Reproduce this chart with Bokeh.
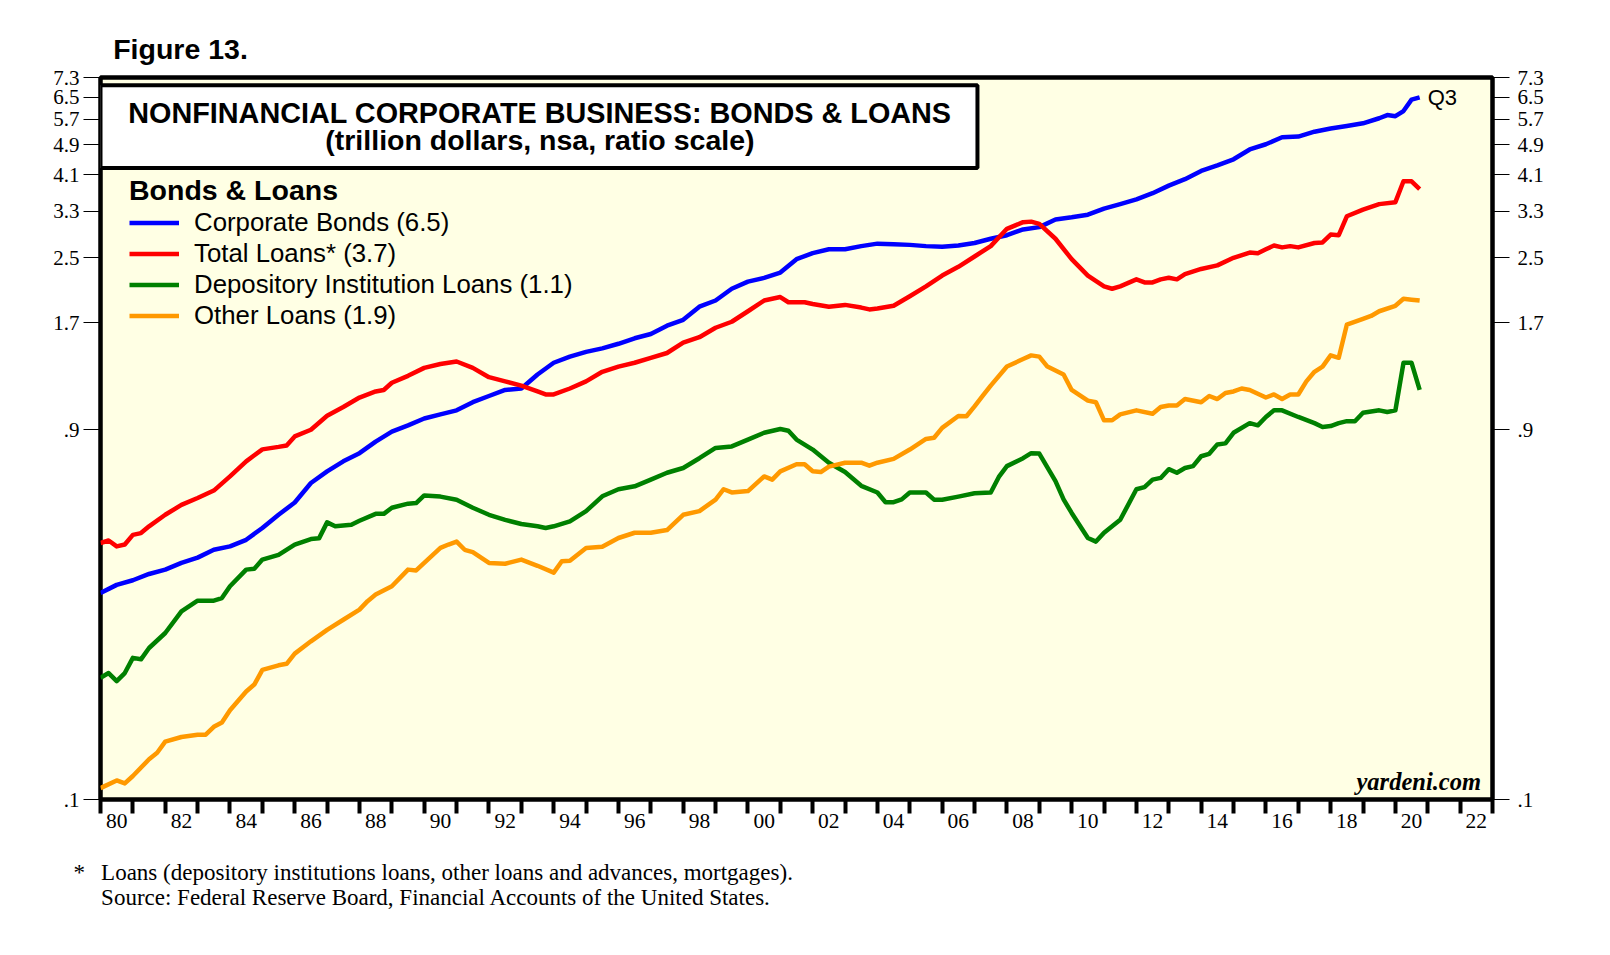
from bokeh.plotting import figure
from bokeh.models import (FixedTicker, LogAxis, Label, BoxAnnotation, Legend, LegendItem, Title)
from bokeh.embed import file_html
from bokeh.resources import INLINE

# ---------------- data (trillion dollars, quarterly dates as decimal years) ----------------
bonds_t = [1980.0, 1980.5, 1981.0, 1981.5, 1982.0, 1982.5, 1983.0, 1983.5, 1984.0, 1984.5,
           1985.0, 1985.5, 1986.0, 1986.5, 1987.0, 1987.5, 1988.0, 1988.5, 1989.0, 1989.5,
           1990.0, 1990.5, 1991.0, 1991.5, 1992.0, 1992.5, 1993.0, 1993.5, 1994.0, 1994.5,
           1995.0, 1995.5, 1996.0, 1996.5, 1997.0, 1997.5, 1998.0, 1998.5, 1999.0, 1999.5,
           2000.0, 2000.5, 2001.0, 2001.5, 2002.0, 2002.5, 2003.0, 2003.5, 2004.0, 2004.5,
           2005.0, 2005.5, 2006.0, 2006.5, 2007.0, 2007.5, 2008.0, 2008.5, 2009.0, 2009.5,
           2010.0, 2010.5, 2011.0, 2011.5, 2012.0, 2012.5, 2013.0, 2013.5, 2014.0, 2014.5,
           2015.0, 2015.5, 2016.0, 2016.5, 2017.0, 2017.5, 2018.0, 2018.5, 2019.0, 2019.5,
           2019.75, 2020.0, 2020.25, 2020.5, 2020.75]
bonds = [0.341, 0.358, 0.368, 0.382, 0.392, 0.408, 0.421, 0.441, 0.450, 0.468,
         0.502, 0.543, 0.584, 0.656, 0.703, 0.746, 0.783, 0.839, 0.890, 0.924,
         0.962, 0.986, 1.01, 1.06, 1.10, 1.14, 1.15, 1.25, 1.34, 1.39,
         1.43, 1.46, 1.50, 1.55, 1.59, 1.67, 1.73, 1.87, 1.94, 2.08,
         2.17, 2.22, 2.29, 2.48, 2.57, 2.63, 2.63, 2.68, 2.72, 2.71,
         2.70, 2.68, 2.67, 2.69, 2.73, 2.80, 2.86, 2.96, 3.00, 3.14,
         3.18, 3.23, 3.35, 3.44, 3.54, 3.67, 3.84, 3.99, 4.19, 4.33,
         4.49, 4.76, 4.91, 5.12, 5.14, 5.29, 5.39, 5.47, 5.56, 5.73,
         5.84, 5.80, 5.98, 6.40, 6.49]

loans_t = [1980.0, 1980.25, 1980.5, 1980.75, 1981.0, 1981.25, 1981.5, 1982.0, 1982.5, 1983.0,
           1983.5, 1984.0, 1984.5, 1985.0, 1985.5, 1985.75, 1986.0, 1986.5, 1987.0, 1987.5,
           1988.0, 1988.5, 1988.75, 1989.0, 1989.5, 1990.0, 1990.5, 1991.0, 1991.5, 1992.0,
           1992.5, 1993.0, 1993.5, 1993.75, 1994.0, 1994.5, 1995.0, 1995.5, 1996.0, 1996.5,
           1997.0, 1997.5, 1998.0, 1998.5, 1999.0, 1999.5, 2000.0, 2000.5, 2001.0, 2001.25,
           2001.75, 2002.0, 2002.5, 2003.0, 2003.5, 2003.75, 2004.0, 2004.5, 2005.0, 2005.5,
           2006.0, 2006.5, 2007.0, 2007.5, 2008.0, 2008.5, 2008.75, 2009.0, 2009.5, 2010.0,
           2010.5, 2011.0, 2011.25, 2011.5, 2012.0, 2012.25, 2012.5, 2012.75, 2013.0, 2013.25,
           2013.5, 2014.0, 2014.5, 2015.0, 2015.5, 2015.75, 2016.0, 2016.25, 2016.5, 2016.75,
           2017.0, 2017.5, 2017.75, 2018.0, 2018.25, 2018.5, 2019.0, 2019.5, 2020.0, 2020.25,
           2020.5, 2020.75]
total_loans = [0.459, 0.466, 0.450, 0.455, 0.482, 0.487, 0.507, 0.543, 0.576, 0.600,
               0.627, 0.682, 0.746, 0.801, 0.813, 0.820, 0.865, 0.900, 0.978, 1.03,
               1.09, 1.13, 1.14, 1.19, 1.24, 1.30, 1.33, 1.35, 1.30, 1.23,
               1.20, 1.17, 1.13, 1.11, 1.11, 1.15, 1.20, 1.27, 1.31, 1.34,
               1.38, 1.42, 1.51, 1.56, 1.65, 1.71, 1.82, 1.94, 1.98, 1.92,
               1.92, 1.90, 1.87, 1.89, 1.86, 1.84, 1.85, 1.88, 1.99, 2.11,
               2.25, 2.37, 2.52, 2.68, 2.97, 3.09, 3.10, 3.06, 2.80, 2.48,
               2.25, 2.11, 2.08, 2.11, 2.20, 2.16, 2.16, 2.20, 2.22, 2.20,
               2.27, 2.34, 2.39, 2.50, 2.58, 2.57, 2.63, 2.69, 2.66, 2.68,
               2.66, 2.73, 2.74, 2.87, 2.86, 3.20, 3.33, 3.44, 3.48, 3.94,
               3.94, 3.76]

dep_t = [1980.0, 1980.25, 1980.5, 1980.75, 1981.0, 1981.25, 1981.5, 1982.0, 1982.5, 1983.0,
         1983.5, 1983.75, 1984.0, 1984.5, 1984.75, 1985.0, 1985.5, 1986.0, 1986.5, 1986.75,
         1987.0, 1987.25, 1987.75, 1988.0, 1988.5, 1988.75, 1989.0, 1989.5, 1989.75, 1990.0,
         1990.5, 1991.0, 1991.5, 1992.0, 1992.5, 1993.0, 1993.5, 1993.75, 1994.0, 1994.5,
         1995.0, 1995.5, 1996.0, 1996.5, 1997.0, 1997.5, 1998.0, 1998.5, 1999.0, 1999.5,
         2000.0, 2000.5, 2001.0, 2001.25, 2001.5, 2002.0, 2002.5, 2003.0, 2003.5, 2004.0,
         2004.25, 2004.5, 2004.75, 2005.0, 2005.5, 2005.75, 2006.0, 2006.5, 2007.0, 2007.5,
         2007.75, 2008.0, 2008.5, 2008.75, 2009.0, 2009.5, 2009.75, 2010.0, 2010.5, 2010.75,
         2011.0, 2011.5, 2012.0, 2012.25, 2012.5, 2012.75, 2013.0, 2013.25, 2013.5, 2013.75,
         2014.0, 2014.25, 2014.5, 2014.75, 2015.0, 2015.5, 2015.75, 2016.0, 2016.25, 2016.5,
         2017.0, 2017.5, 2017.75, 2018.0, 2018.25, 2018.5, 2018.75, 2019.0, 2019.5, 2019.75,
         2020.0, 2020.25, 2020.5, 2020.75]
depository_loans = [0.206, 0.212, 0.202, 0.212, 0.232, 0.230, 0.246, 0.269, 0.306, 0.326,
                    0.326, 0.331, 0.355, 0.392, 0.394, 0.416, 0.428, 0.455, 0.470, 0.472,
                    0.519, 0.507, 0.512, 0.524, 0.546, 0.546, 0.566, 0.580, 0.582, 0.609,
                    0.605, 0.594, 0.566, 0.543, 0.527, 0.514, 0.507, 0.502, 0.507, 0.522,
                    0.555, 0.606, 0.632, 0.643, 0.669, 0.697, 0.717, 0.760, 0.808, 0.815,
                    0.849, 0.884, 0.904, 0.895, 0.849, 0.800, 0.740, 0.700, 0.645, 0.620,
                    0.585, 0.585, 0.595, 0.620, 0.620, 0.594, 0.594, 0.605, 0.617, 0.620,
                    0.680, 0.725, 0.760, 0.783, 0.781, 0.663, 0.595, 0.549, 0.473, 0.463,
                    0.488, 0.527, 0.632, 0.640, 0.669, 0.676, 0.712, 0.697, 0.717, 0.725,
                    0.769, 0.780, 0.825, 0.830, 0.884, 0.936, 0.924, 0.971, 1.01, 1.01,
                    0.971, 0.936, 0.915, 0.920, 0.936, 0.947, 0.947, 0.996, 1.01, 1.00,
                    1.01, 1.34, 1.34, 1.14]

oth_t = [1980.0, 1980.5, 1980.75, 1981.0, 1981.5, 1981.75, 1982.0, 1982.5, 1983.0, 1983.25,
         1983.5, 1983.75, 1984.0, 1984.5, 1984.75, 1985.0, 1985.5, 1985.75, 1986.0, 1986.5,
         1987.0, 1987.5, 1988.0, 1988.25, 1988.5, 1989.0, 1989.5, 1989.75, 1990.0, 1990.5,
         1990.75, 1991.0, 1991.25, 1991.5, 1992.0, 1992.5, 1993.0, 1993.5, 1994.0, 1994.25,
         1994.5, 1995.0, 1995.5, 1996.0, 1996.5, 1997.0, 1997.5, 1998.0, 1998.5, 1999.0,
         1999.25, 1999.5, 2000.0, 2000.5, 2000.75, 2001.0, 2001.5, 2001.75, 2002.0, 2002.25,
         2002.5, 2003.0, 2003.5, 2003.75, 2004.0, 2004.5, 2005.0, 2005.5, 2005.75, 2006.0,
         2006.5, 2006.75, 2007.0, 2007.25, 2007.5, 2008.0, 2008.5, 2008.75, 2009.0, 2009.25,
         2009.5, 2009.75, 2010.0, 2010.5, 2010.75, 2011.0, 2011.25, 2011.5, 2012.0, 2012.5,
         2012.75, 2013.0, 2013.25, 2013.5, 2014.0, 2014.25, 2014.5, 2014.75, 2015.0, 2015.25,
         2015.5, 2016.0, 2016.25, 2016.5, 2016.75, 2017.0, 2017.25, 2017.5, 2017.75, 2018.0,
         2018.25, 2018.5, 2019.0, 2019.25, 2019.5, 2020.0, 2020.25, 2020.5, 2020.75]
other_loans = [0.107, 0.112, 0.110, 0.115, 0.127, 0.132, 0.141, 0.145, 0.147, 0.147,
               0.154, 0.158, 0.170, 0.190, 0.198, 0.216, 0.222, 0.224, 0.238, 0.256,
               0.274, 0.291, 0.309, 0.325, 0.338, 0.355, 0.392, 0.390, 0.408, 0.446,
               0.455, 0.463, 0.441, 0.435, 0.408, 0.406, 0.416, 0.401, 0.385, 0.412,
               0.413, 0.446, 0.449, 0.473, 0.488, 0.488, 0.496, 0.543, 0.555, 0.594,
               0.632, 0.620, 0.625, 0.682, 0.669, 0.703, 0.733, 0.733, 0.703, 0.700,
               0.723, 0.740, 0.740, 0.727, 0.740, 0.757, 0.800, 0.852, 0.858, 0.910,
               0.977, 0.975, 1.034, 1.10, 1.17, 1.31, 1.37, 1.40, 1.39, 1.31,
               1.28, 1.25, 1.14, 1.07, 1.06, 0.952, 0.952, 0.986, 1.01, 0.99,
               1.03, 1.04, 1.04, 1.08, 1.06, 1.10, 1.08, 1.12, 1.13, 1.15,
               1.14, 1.09, 1.11, 1.08, 1.11, 1.11, 1.20, 1.27, 1.31, 1.40,
               1.38, 1.68, 1.74, 1.77, 1.82, 1.88, 1.96, 1.95, 1.94]

series_names = ["Corporate Bonds (6.5)", "Total Loans* (3.7)",
                "Depository Institution Loans (1.1)", "Other Loans (1.9)"]
series_colors = ["#0000FF", "#FF0000", "#008000", "#FF9900"]

year_ticks = list(range(1980, 2024))
label_years = [1980.5, 1982.5, 1984.5, 1986.5, 1988.5, 1990.5, 1992.5, 1994.5, 1996.5, 1998.5,
               2000.5, 2002.5, 2004.5, 2006.5, 2008.5, 2010.5, 2012.5, 2014.5, 2016.5, 2018.5,
               2020.5, 2022.5]
x_labels = ["80", "82", "84", "86", "88", "90", "92", "94", "96", "98", "00", "02", "04",
            "06", "08", "10", "12", "14", "16", "18", "20", "22"]
y_ticks = [0.1, 0.9, 1.7, 2.5, 3.3, 4.1, 4.9, 5.7, 6.5, 7.3]
y_labels = [".1", ".9", "1.7", "2.5", "3.3", "4.1", "4.9", "5.7", "6.5", "7.3"]

footnote = ("*\u2002\u2009Loans (depository institutions loans, other loans and advances, mortgages).\n"
            "\u2002\u2002\u2009Source: Federal Reserve Board, Financial Accounts of the United States.")

SANS = "Liberation Sans"
SERIF = "Liberation Serif"

p = figure(width=1594, height=939, x_range=(1980, 2023), y_range=(0.1, 7.3),
           y_axis_type="log", output_backend="svg", toolbar_location=None,
           min_border_left=100, min_border_right=102, min_border_top=77, min_border_bottom=140)
p.background_fill_color = "#FFFFE4"
p.border_fill_color = "white"
p.outline_line_color = "black"
p.outline_line_width = 4.5
p.grid.visible = False

# x axis: thick year ticks, labels at mid-year of even years
xax = p.xaxis[0]
xax.ticker = FixedTicker(ticks=label_years, minor_ticks=year_ticks)
xax.major_label_overrides = dict(zip(label_years, x_labels))
xax.axis_line_color = None
xax.major_tick_line_color = None
xax.major_tick_out = 0
xax.major_tick_in = 0
xax.minor_tick_line_color = "black"
xax.minor_tick_line_width = 4
xax.minor_tick_out = 14
xax.minor_tick_in = 0
xax.major_label_standoff = 0
xax.major_label_text_font = SERIF
xax.major_label_text_font_size = "21.5px"
xax.major_label_text_color = "black"

def style_y(ax, standoff):
    ax.ticker = FixedTicker(ticks=y_ticks)
    ax.major_label_overrides = dict(zip(y_ticks, y_labels))
    ax.axis_line_color = None
    ax.major_tick_line_color = "black"
    ax.major_tick_line_width = 1
    ax.major_tick_out = 17
    ax.major_tick_in = 0
    ax.minor_tick_line_color = None
    ax.major_label_standoff = standoff
    ax.major_label_text_font = SERIF
    ax.major_label_text_font_size = "21px"
    ax.major_label_text_color = "black"

style_y(p.yaxis[0], 4)
rax = LogAxis()
style_y(rax, 8)
p.add_layout(rax, "right")

# title box
p.add_layout(BoxAnnotation(left=1980, right=2007.09, top=6.97, bottom=4.262,
                           fill_color="white", fill_alpha=1.0,
                           line_color="black", line_alpha=1.0, line_width=4))

# series
renderers = []
for t, v, c in [(bonds_t, bonds, series_colors[0]), (loans_t, total_loans, series_colors[1]),
                (dep_t, depository_loans, series_colors[2]), (oth_t, other_loans, series_colors[3])]:
    r = p.line(t, v, line_color=c, line_width=4.5, line_join="round")
    renderers.append(r)

legend = Legend(items=[LegendItem(label=n, renderers=[r]) for n, r in zip(series_names, renderers)],
                location=(29, 468), title="Bonds & Loans",
                title_text_font=SANS, title_text_font_size="28.5px", title_text_font_style="bold",
                title_text_color="black", title_standoff=0,
                label_text_font=SANS, label_text_font_size="25.8px", label_text_color="black",
                glyph_width=50, glyph_height=31, label_height=31, label_standoff=15,
                spacing=0, padding=0, margin=0,
                border_line_color=None, background_fill_alpha=0)
p.add_layout(legend, "center")

def lab(x, y, text, font=SANS, size="27px", style="normal", align="left"):
    p.add_layout(Label(x=x, y=y, x_units="screen", y_units="screen", text=text,
                       text_font=font, text_font_size=size, text_font_style=style,
                       text_align=align, text_baseline="alphabetic", text_color="black"))

lab(439.4, 686.5, "NONFINANCIAL CORPORATE BUSINESS: BONDS & LOANS", size="28.8px", style="bold", align="center")
lab(439.4, 659.5, "(trillion dollars, nsa, ratio scale)", size="28.5px", style="bold", align="center")
lab(1380.5, 18.5, "yardeni.com", font=SERIF, size="24.5px", style="bold italic", align="right")

p.add_layout(Label(x=bonds_t[-1], y=bonds[-1], text="Q3", x_offset=8,
                   text_font=SANS, text_font_size="22px", text_baseline="middle",
                   text_color="black"))

# outer texts as titles
p.add_layout(Title(text="Figure 13.", align="left", offset=12.7, standoff=26,
                   text_font=SANS, text_font_size="28.5px", text_font_style="bold",
                   text_color="black"), "above")
p.add_layout(Title(text=footnote, align="left", offset=-27, standoff=54,
                   text_font=SERIF, text_font_size="23px", text_font_style="normal",
                   text_line_height=1.0, text_color="black"), "below")

open("out.html", "w").write(file_html(p, INLINE))
